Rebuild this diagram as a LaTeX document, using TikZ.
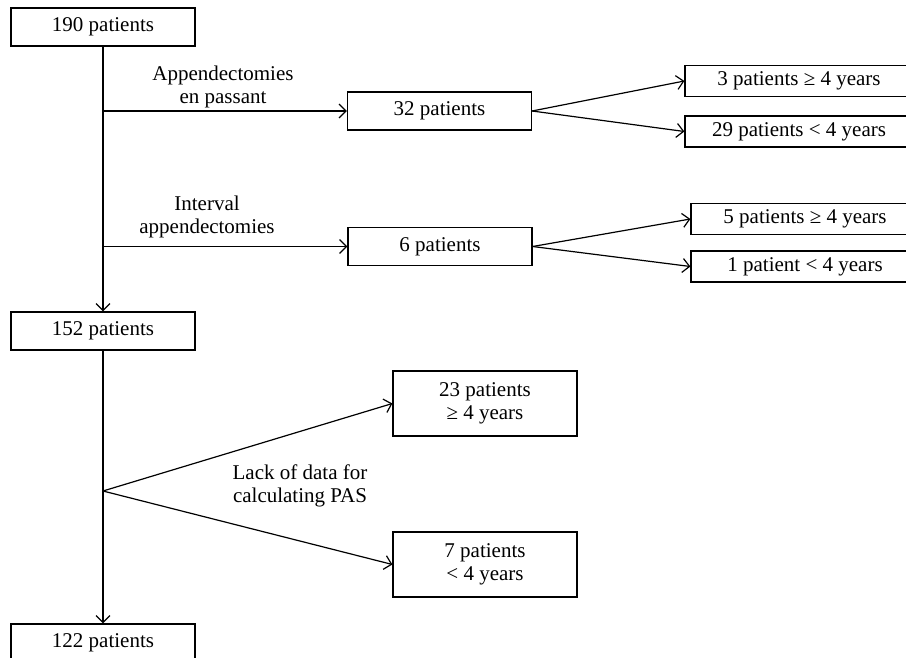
\documentclass[tikz,border=0pt]{standalone}
\usepackage{fontspec}
\setmainfont{Liberation Serif}
\usetikzlibrary{arrows.meta}

\begin{document}
\begin{tikzpicture}[x=1pt,y=-1pt,line width=1.2pt,>={Straight Barb[length=7pt,width=14pt]},
  every node/.style={font=\fontsize{21}{23}\selectfont},
  box/.style={draw,inner sep=0pt,minimum width=184pt,minimum height=38pt},
  agebox/.style={draw,inner sep=0pt,minimum width=228pt,minimum height=31pt},
  tallbox/.style={draw,inner sep=0pt,minimum width=184pt,minimum height=65pt,align=center},
  note/.style={align=center,inner sep=0pt}]
\useasboundingbox (0,0) rectangle (906,658);
\node[box]     (p190)   at (103,27)    {190 patients};
\node[box]     (p152)   at (103,331)   {152 patients};
\node[box]     (p122)   at (103,643)   {122 patients};
\node[box]     (p32)    at (439.5,111) {32 patients};
\node[box]     (p6)     at (440,246.5) {6 patients};
\node[agebox]  (p3)     at (799,81)    {3 patients ≥ 4 years};
\node[agebox]  (p29)    at (799,131.5) {29 patients < 4 years};
\node[agebox]  (p5)     at (805,219)   {5 patients ≥ 4 years};
\node[agebox]  (p1)     at (805,266.5) {1 patient < 4 years};
\node[tallbox] (p23)    at (485,403.5) {23 patients\\≥ 4 years};
\node[tallbox] (p7)     at (485,564.5) {7 patients\\< 4 years};
\node[note]    (passant) at (223,86.5) {Appendectomies\\en passant};
\node[note]    (interval) at (207,217) {Interval\\appendectomies};
\node[note]    (lack)   at (300,486)   {Lack of data for\\calculating PAS};
\coordinate (s32) at (p190.south |- p32.west);
\coordinate (s6)  at (p190.south |- p6.west);
\coordinate (s23) at (103,491);
\draw[->] (p190) -- (p152);
\draw[->] (p152) -- (p122);
\draw[->] (s32) -- (p32);
\draw[->] (s6) -- (p6);
\draw[->] (p32.east) -- (p3.west);
\draw[->] (p32.east) -- (p29.west);
\draw[->] (p6.east) -- (p5.west);
\draw[->] (p6.east) -- (p1.west);
\draw[->] (s23) -- (p23.west);
\draw[->] (s23) -- (p7.west);
\end{tikzpicture}
\end{document}
